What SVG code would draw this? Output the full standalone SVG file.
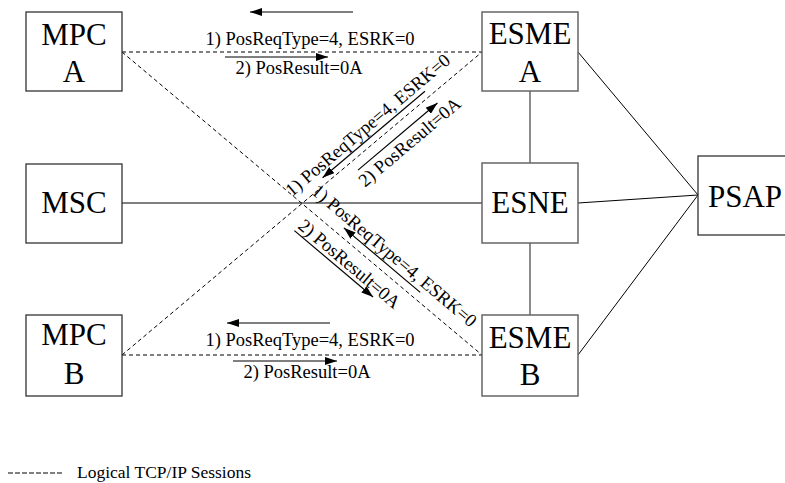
<svg xmlns="http://www.w3.org/2000/svg" width="785" height="483" viewBox="0 0 785 483" font-family="'Liberation Serif', 'Times New Roman', 'DejaVu Serif', serif">
<style>
.n{font-size:31px;text-anchor:middle}
.l{font-size:18.5px}
.c{text-anchor:middle}
.bx{fill:#fff;stroke:#333;stroke-width:1.3}
.bg{fill:#fff;stroke:#666;stroke-width:1.5}
.s{stroke:#000;stroke-width:1;fill:none}
.g{stroke:#666;stroke-width:1.5;fill:none}
.d{stroke:#000;stroke-width:1;fill:none;stroke-dasharray:4,3}
.a{stroke:#000;stroke-width:1.2;fill:none;marker-end:url(#ah)}
</style>
<defs>
<marker id="ah" viewBox="0 0 12 8" refX="12" refY="4" markerWidth="12" markerHeight="8" markerUnits="userSpaceOnUse" orient="auto">
<path d="M0,0 L12,4 L0,8 z" fill="#000"/>
</marker>
</defs>
<g id="connectors">
<line class="s" x1="122" y1="203" x2="482" y2="203"/>
<line class="g" x1="530" y1="91" x2="530" y2="163"/>
<line class="g" x1="530" y1="243" x2="530" y2="315"/>
<line class="s" x1="578" y1="52" x2="698" y2="195"/>
<line class="s" x1="578" y1="203" x2="698" y2="195"/>
<line class="s" x1="578" y1="355" x2="698" y2="195"/>
<line class="d" x1="122" y1="52" x2="482" y2="52"/>
<line class="d" x1="122" y1="355" x2="482" y2="355"/>
<line class="d" x1="122" y1="52" x2="482" y2="355"/>
<line class="d" x1="122" y1="355" x2="482" y2="52"/>
<line class="a" x1="353" y1="12" x2="250" y2="12"/>
<text class="l c" x="310" y="45">1) PosReqType=4, ESRK=0</text>
<line class="a" x1="225" y1="57" x2="328" y2="57"/>
<text class="l c" x="299" y="74">2) PosResult=0A</text>
<line class="a" x1="330" y1="323" x2="227" y2="323"/>
<text class="l c" x="310" y="346">1) PosReqType=4, ESRK=0</text>
<line class="a" x1="233" y1="361" x2="337" y2="361"/>
<text class="l c" x="307" y="378">2) PosResult=0A</text>
<g transform="translate(302 203) rotate(-40.18)">
<line class="a" x1="166" y1="-6" x2="32" y2="-6"/>
<text class="l" x="-4" y="-11">1) PosReqType=4, ESRK=0</text>
<line class="a" x1="64" y1="11" x2="168" y2="11"/>
<text class="l" x="58" y="29">2) PosResult=0A</text>
</g>
<g transform="translate(302 203) rotate(40.18)">
<line class="a" x1="148" y1="-8" x2="48" y2="-8"/>
<text class="l" x="0" y="-13">1) PosReqType=4, ESRK=0</text>
<line class="a" x1="12" y1="26" x2="115" y2="26"/>
<text class="l" x="12" y="22">2) PosResult=0A</text>
</g>
</g>
<g id="mpc-a"><rect class="bx" x="26" y="12" width="96" height="79"/><text class="n" x="74" y="45">MPC</text><text class="n" x="74" y="82">A</text></g>
<g id="msc"><rect class="bx" x="26" y="164" width="96" height="79"/><text class="n" x="74" y="213">MSC</text></g>
<g id="mpc-b"><rect class="bx" x="26" y="315" width="96" height="81"/><text class="n" x="74" y="345">MPC</text><text class="n" x="74" y="384">B</text></g>
<g id="esme-a"><rect class="bg" x="482" y="12" width="96" height="79"/><text class="n" x="530" y="44">ESME</text><text class="n" x="530" y="82">A</text></g>
<g id="esne"><rect class="bg" x="482" y="163" width="96" height="80"/><text class="n" x="530" y="213">ESNE</text></g>
<g id="esme-b"><rect class="bg" x="482" y="315" width="96" height="81"/><text class="n" x="530" y="348">ESME</text><text class="n" x="530" y="385">B</text></g>
<g id="psap"><rect class="bx" x="698" y="156" width="96" height="79"/><text class="n" x="745" y="207">PSAP</text></g>
<g id="legend">
<line x1="8" y1="473" x2="62" y2="473" stroke="#000" stroke-width="1" stroke-dasharray="5,2"/>
<text x="77" y="478" font-size="17.5">Logical TCP/IP Sessions</text>
</g>
</svg>
